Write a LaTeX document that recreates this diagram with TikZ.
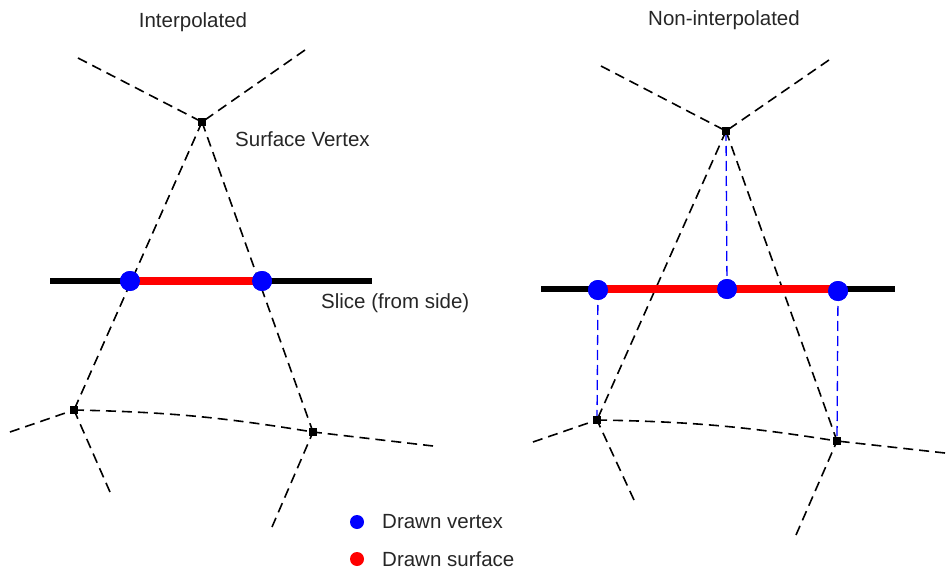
\documentclass[tikz,border=0pt]{standalone}
\usepackage{fontspec}
\setmainfont{Liberation Sans}
\begin{document}
\begin{tikzpicture}[x=1pt,y=-1pt,
  edge/.style={line width=1.6pt,dash pattern=on 10pt off 6pt},
  proj/.style={blue,line width=1.3pt,dash pattern=on 10pt off 5pt},
  vsq/.style={rectangle,fill=black,minimum size=8pt,inner sep=0pt},
  bdot/.style={circle,fill=blue,minimum size=20pt,inner sep=0pt},
  ldot/.style={circle,fill=#1,minimum size=14pt,inner sep=0pt},
  lbl/.style={text=black!85,font=\fontsize{20.5}{24}\selectfont,inner sep=0pt},
  slice/.style={line width=6pt},
  surf/.style={red,line width=8pt}]
\useasboundingbox (0,0) rectangle (947,569);
% ---------------- left panel ----------------
\node[lbl] (t1) at (193,22) {Interpolated};
\node[vsq] (A) at (202,122) {};
\node[vsq] (B) at (74,410) {};
\node[vsq] (C) at (313,432) {};
\coordinate (a1) at (78,58);
\coordinate (a2) at (305,50);
\coordinate (b1) at (10,432);
\coordinate (b2) at (110,492);
\coordinate (c1) at (433,446);
\coordinate (c2) at (272,527);
\draw[edge] (a1) -- (A.center);
\draw[edge] (a2) -- (A.center);
\draw[edge] (A.center) -- (B.center);
\draw[edge] (A.center) -- (C.center);
\draw[edge] (b1) -- (B.center);
\draw[edge] (b2) -- (B.center);
\draw[edge] (B.center) to[bend left=4] (C.center);
\draw[edge] (c1) -- (C.center);
\draw[edge] (c2) -- (C.center);
\coordinate (s1) at (50,281);
\coordinate (s2) at (372,281);
\draw[slice] (s1) -- (s2);
\node[bdot] (p1) at (130,281) {};
\node[bdot] (p2) at (262,281) {};
\draw[surf] (p1.center) -- (p2.center);
\node[bdot] at (p1) {};
\node[bdot] at (p2) {};
\node[lbl,anchor=west] (sv) at (235,139) {Surface Vertex};
\node[lbl,anchor=west] (sl) at (321,303) {Slice (from side)};
% ---------------- right panel ----------------
\node[lbl] (t2) at (724,20) {Non-interpolated};
\node[vsq] (D) at (726,131) {};
\node[vsq] (E) at (597,420) {};
\node[vsq] (F) at (837,441) {};
\coordinate (d1) at (601,66);
\coordinate (d2) at (829,60);
\coordinate (e1) at (533,442);
\coordinate (e2) at (634,500);
\coordinate (f1) at (945,453);
\coordinate (f2) at (796,535);
\draw[edge] (d1) -- (D.center);
\draw[edge] (d2) -- (D.center);
\draw[edge] (D.center) -- (E.center);
\draw[edge] (D.center) -- (F.center);
\draw[edge] (e1) -- (E.center);
\draw[edge] (e2) -- (E.center);
\draw[edge] (E.center) to[bend left=4] (F.center);
\draw[edge] (f1) -- (F.center);
\draw[edge] (f2) -- (F.center);
\coordinate (r1) at (541,289);
\coordinate (r2) at (895,289);
\draw[slice] (r1) -- (r2);
\node[bdot] (q1) at (598,290) {};
\node[bdot] (q2) at (727,289) {};
\node[bdot] (q3) at (838,291) {};
\draw[surf] (q1.center |- r1) -- (q3.center |- r1);
\draw[proj] (D.center) -- (q2.center);
\draw[proj] (q1.center) -- (E.center);
\draw[proj] (q3.center) -- (F.center);
\node[bdot] at (q1) {};
\node[bdot] at (q2) {};
\node[bdot] at (q3) {};
\node[vsq] at (D) {};
\node[vsq] at (E) {};
\node[vsq] at (F) {};
% ---------------- legend ----------------
\node[ldot=blue] (lg1) at (357,522) {};
\node[ldot=red] (lg2) at (357,559) {};
\node[lbl,anchor=west] (lt1) at (382,522) {Drawn vertex};
\node[lbl,anchor=west] (lt2) at (382,559) {Drawn surface};
\end{tikzpicture}
\end{document}
